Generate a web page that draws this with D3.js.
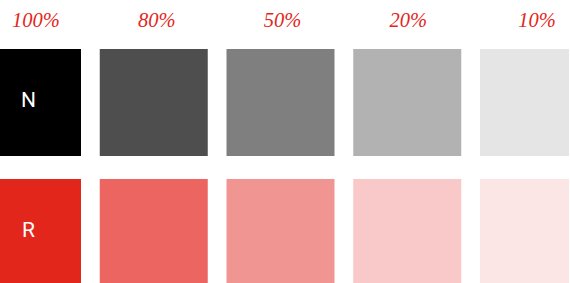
<!DOCTYPE html>
<html><head><meta charset="utf-8">
<script src="https://cdn.jsdelivr.net/npm/d3@7"></script>
<style>html,body{margin:0;padding:0;background:#fff;overflow:hidden}</style>
</head><body>
<script>
const tints = ["100%", "80%", "50%", "20%", "10%"];
const rowNames = ["N", "R"];
const greyColors = ["#000000", "#4e4e4e", "#7f7f7f", "#b2b2b2", "#e5e5e5"];
const redColors = ["#e3261b", "#ec6561", "#f19592", "#f8c9c8", "#fce6e5"];
const labelDx = [9, 3, 2, 1, 3];

const W = 570, H = 283;
const svg = d3.select("body").append("svg").attr("width", W).attr("height", H);
svg.append("defs").append("clipPath").attr("id", "clip")
  .append("rect").attr("x", 0).attr("y", 0).attr("width", 569).attr("height", H);

const x = d3.scaleBand().domain(tints).range([-27, 588]).paddingInner(0.148).paddingOuter(0);
const rowTop = {N: 49, R: 179};
const rowH = {N: 107, R: 104};

const rows = [
  {name: "N", colors: greyColors},
  {name: "R", colors: redColors}
];

const g = svg.append("g").attr("clip-path", "url(#clip)");
rows.forEach(r => {
  g.selectAll(null).data(tints).enter().append("rect")
    .attr("x", d => x(d))
    .attr("y", rowTop[r.name])
    .attr("width", x.bandwidth())
    .attr("height", rowH[r.name])
    .attr("fill", (d, i) => r.colors[i]);
  g.append("text")
    .attr("x", x(tints[0]) + x.bandwidth() / 2 + 1.5)
    .attr("y", rowTop[r.name] + 58)
    .attr("text-anchor", "middle")
    .attr("font-family", "Roboto, sans-serif")
    .attr("font-weight", 400)
    .attr("font-size", 21)
    .attr("fill", "#fff")
    .text(r.name);
});

svg.selectAll(".lbl").data(tints).enter().append("text")
  .attr("class", "lbl")
  .attr("x", (d, i) => x(d) + x.bandwidth() / 2 + labelDx[i])
  .attr("y", 26.5)
  .attr("text-anchor", "middle")
  .attr("font-family", "'Liberation Serif', serif")
  .attr("font-style", "italic")
  .attr("font-size", 20.5)
  .attr("fill", "#e3261b")
  .text(d => d);
</script>
</body></html>
